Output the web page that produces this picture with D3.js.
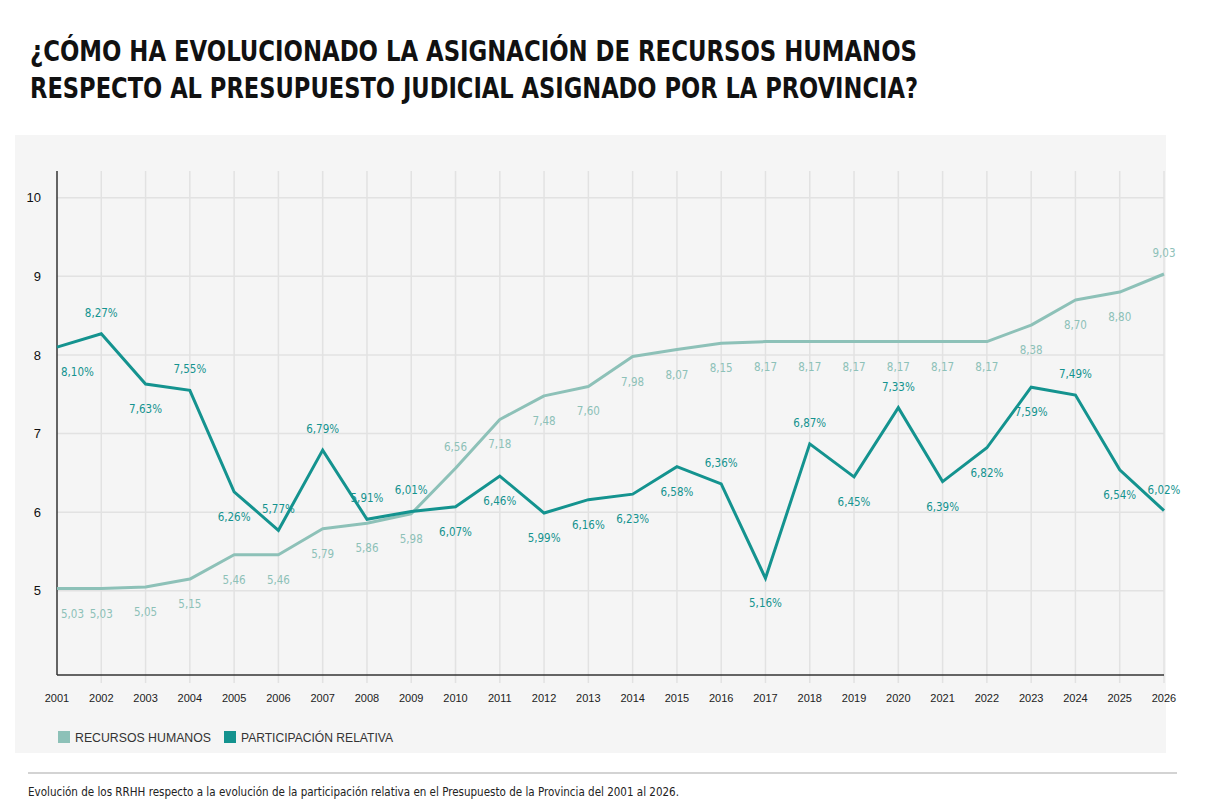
<!DOCTYPE html>
<html>
<head>
<meta charset="utf-8">
<script src="https://cdn.jsdelivr.net/npm/d3@7"></script>
<style>
    body { margin: 0; background: #fff; }
    svg { display: block; }
</style>
</head>
<body>
<div id="chart"></div>
<script>

const years = ["2001","2002","2003","2004","2005","2006","2007","2008","2009","2010","2011","2012","2013",
    "2014","2015","2016","2017","2018","2019","2020","2021","2022","2023","2024","2025","2026"];

// recursos humanos
const rrhh = [5.03,5.03,5.05,5.15,5.46,5.46,5.79,5.86,5.98,6.56,7.18,7.48,7.60,
    7.98,8.07,8.15,8.17,8.17,8.17,8.17,8.17,8.17,8.38,8.70,8.80,9.03];

// participacion relativa (%)
const participacion = [8.10,8.27,7.63,7.55,6.26,5.77,6.79,5.91,6.01,6.07,6.46,5.99,6.16,
    6.23,6.58,6.36,5.16,6.87,6.45,7.33,6.39,6.82,7.59,7.49,6.54,6.02];

// which side of the point the value label sits on
const rrhhSide = ["b","b","b","b","b","b","b","b","b","a","b","b","b",
    "b","b","b","b","b","b","b","b","b","b","b","b","a"];
const partSide = ["b","a","b","a","b","a","a","a","a","b","b","b","b",
    "b","b","a","b","a","b","a","b","b","b","a","b","a"];

const yTicks = [5,6,7,8,9,10];
const seriesNames = ["RECURSOS HUMANOS","PARTICIPACIÓN RELATIVA"];

const titleLines = ["¿CÓMO HA EVOLUCIONADO LA ASIGNACIÓN DE RECURSOS HUMANOS",
    "RESPECTO AL PRESUPUESTO JUDICIAL ASIGNADO POR LA PROVINCIA?"];
const footnote = "Evolución de los RRHH respecto a la evolución de la participación relativa en el Presupuesto de la Provincia del 2001 al 2026.";

const colorRrhh = "#8dc1b8",
    colorPart = "#14938f";

const narrow = "'DejaVu Sans Condensed','Liberation Sans',sans-serif";
const sans = "'Liberation Sans',Arial,sans-serif";

const width = 1206, height = 812;

const svg = d3.select("#chart").append("svg")
    .attr("width", width)
    .attr("height", height);

// title
svg.selectAll("text.title")
    .data(titleLines)
    .enter().append("text")
    .attr("class", "title")
    .attr("x", 30)
    .attr("y", (d, i) => 61 + i * 37)
    .attr("font-family", narrow)
    .attr("font-weight", "bold")
    .attr("font-size", 28)
    .attr("fill", "#111")
    .attr("textLength", (d, i) => i === 0 ? 887 : 888)
    .attr("lengthAdjust", "spacingAndGlyphs")
    .text(d => d);

// grey panel
svg.append("rect")
    .attr("x", 15).attr("y", 135)
    .attr("width", 1151).attr("height", 618)
    .attr("fill", "#f5f5f5");

const plot = {left: 57, right: 1164, top: 171, bottom: 675};

const x = d3.scalePoint()
    .domain(years)
    .range([plot.left, plot.right]);

const y = d3.scaleLinear()
    .domain([3.93, 10.34])
    .range([plot.bottom, plot.top]);

// vertical grid
svg.append("g")
    .selectAll("line")
    .data(years.slice(1))
    .enter().append("line")
    .attr("x1", d => x(d)).attr("x2", d => x(d))
    .attr("y1", plot.top).attr("y2", plot.bottom + 8)
    .attr("stroke", "#e2e2e2")
    .attr("stroke-width", 1.5);

// horizontal grid
svg.append("g")
    .selectAll("line")
    .data(yTicks)
    .enter().append("line")
    .attr("x1", plot.left).attr("x2", plot.right)
    .attr("y1", d => y(d)).attr("y2", d => y(d))
    .attr("stroke", "#e2e2e2")
    .attr("stroke-width", 1.5);

// axes lines
svg.append("line")
    .attr("x1", plot.left).attr("x2", plot.left)
    .attr("y1", plot.top).attr("y2", plot.bottom)
    .attr("stroke", "#333").attr("stroke-width", 1.5);
svg.append("line")
    .attr("x1", plot.left).attr("x2", plot.right)
    .attr("y1", plot.bottom).attr("y2", plot.bottom)
    .attr("stroke", "#333").attr("stroke-width", 1.5);

// y tick labels
svg.append("g")
    .selectAll("text")
    .data(yTicks)
    .enter().append("text")
    .attr("x", plot.left - 16)
    .attr("y", d => y(d))
    .attr("dy", "0.35em")
    .attr("text-anchor", "end")
    .attr("font-family", sans)
    .attr("font-size", 13)
    .attr("fill", "#111")
    .text(d => d);

// x tick labels
svg.append("g")
    .selectAll("text")
    .data(years)
    .enter().append("text")
    .attr("x", d => x(d))
    .attr("y", 702)
    .attr("text-anchor", "middle")
    .attr("font-family", sans)
    .attr("font-size", 11)
    .attr("fill", "#222")
    .text(d => d);

const line = d3.line()
    .x((d, i) => x(years[i]))
    .y(d => y(d));

svg.append("path")
    .datum(rrhh)
    .attr("d", line)
    .attr("fill", "none")
    .attr("stroke", colorRrhh)
    .attr("stroke-width", 3)
    .attr("stroke-linejoin", "round");

svg.append("path")
    .datum(participacion)
    .attr("d", line)
    .attr("fill", "none")
    .attr("stroke", colorPart)
    .attr("stroke-width", 3)
    .attr("stroke-linejoin", "miter");

const fmt = v => v.toFixed(2).replace(".", ",");

function drawLabels(values, sides, color, suffix) {
    svg.append("g")
        .selectAll("text")
        .data(values)
        .enter().append("text")
        .attr("x", (d, i) => i === 0 ? x(years[i]) + 4 : x(years[i]))
        .attr("y", (d, i) => y(d) + (sides[i] === "a" ? -21 : 25))
        .attr("dy", "0.35em")
        .attr("text-anchor", (d, i) => i === 0 ? "start" : "middle")
        .attr("font-family", narrow)
        .attr("font-size", 11.5)
        .attr("fill", color)
        .text(d => fmt(d) + suffix);
}

drawLabels(rrhh, rrhhSide, colorRrhh, "");
drawLabels(participacion, partSide, colorPart, "%");

// legend
const legend = svg.append("g")
    .attr("transform", "translate(58,731)");
const legendX = [0, 166];
[colorRrhh, colorPart].forEach(function (c, i) {
    legend.append("rect")
        .attr("x", legendX[i]).attr("y", 0)
        .attr("width", 12).attr("height", 12)
        .attr("fill", c);
    legend.append("text")
        .attr("x", legendX[i] + 17).attr("y", 11)
        .attr("font-family", sans)
        .attr("font-size", 12.5)
        .attr("fill", "#333")
        .attr("textLength", i === 0 ? 136 : 152)
        .attr("lengthAdjust", "spacingAndGlyphs")
        .text(seriesNames[i]);
});

// footer
svg.append("line")
    .attr("x1", 28).attr("x2", 1177)
    .attr("y1", 773).attr("y2", 773)
    .attr("stroke", "#c4c4c4").attr("stroke-width", 1.5);

svg.append("text")
    .attr("x", 28).attr("y", 796)
    .attr("font-family", narrow)
    .attr("font-size", 12.5)
    .attr("fill", "#222")
    .attr("textLength", 651)
    .attr("lengthAdjust", "spacingAndGlyphs")
    .text(footnote);

</script>
</body>
</html>
